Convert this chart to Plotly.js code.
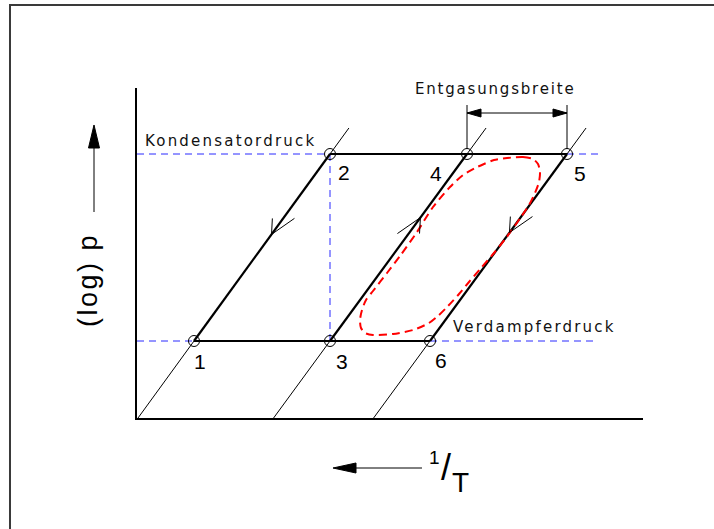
<!DOCTYPE html>
<html>
<head>
<meta charset="utf-8">
<script src="https://cdn.plot.ly/plotly-3.0.1.min.js"></script>
<style>
  html, body { margin: 0; padding: 0; background: #fff; }
  #chart { width: 714px; height: 529px; }
</style>
</head>
<body>
<div id="chart"></div>
<script>
// Absorption cycle in the log p – 1/T diagram

// State points 1..6 (x: 1/T, y: log p)
const stateLabels = ['1', '2', '3', '4', '5', '6'];
const stateX = [1.14, 3.86, 3.86, 6.60, 8.60, 5.86];
const stateY = [1.54, 5.28, 1.54, 5.28, 5.28, 1.54];

// Pressure levels
const pCond = 5.28;   // Kondensatordruck
const pEvap = 1.54;   // Verdampferdruck

// Isosteres as pairs of state indices (lower, upper)
const isosteres = [[0, 1], [2, 3], [5, 4]];
const isostereTop = 5.8;

// Flow direction arrows: [from, to, fraction along the segment]
const flowArrows = [[1, 0, 0.43], [2, 3, 0.66], [4, 5, 0.42]];

// Real process (dashed loop)
const loopX = [7.40, 7.72, 7.92, 8.02, 8.06, 8.04, 7.96, 7.84, 7.68, 7.38, 7.14, 6.88, 6.64, 6.44, 6.22, 6.04,
               5.84, 5.52, 5.12, 4.72, 4.56, 4.48, 4.46, 4.50, 4.58, 4.72, 5.00, 5.26, 5.60, 5.92, 6.26, 6.52,
               6.76, 6.94, 7.14, 7.40];
const loopY = [5.20, 5.22, 5.18, 5.08, 4.92, 4.72, 4.50, 4.26, 4.02, 3.60, 3.30, 3.00, 2.72, 2.48, 2.24, 2.06,
               1.90, 1.76, 1.68, 1.66, 1.70, 1.80, 1.96, 2.16, 2.36, 2.54, 2.90, 3.24, 3.72, 4.22, 4.62, 4.86,
               5.00, 5.08, 5.16, 5.20];

// Extent of the dashed pressure guides on the right
const guideEnd = 9.22;
// Height of the Entgasungsbreite dimension
const dimTop = 6.26, dimY = 6.10;

// ---- geometry helpers ----
const W = 714, H = 529;
const M = { l: 137, r: 71, t: 88, b: 111 };
const PW = W - M.l - M.r, PH = H - M.t - M.b;
const xRange = [0, 10.12], yRange = [0, 6.6];
const kx = PW / (xRange[1] - xRange[0]);
const ky = PH / (yRange[1] - yRange[0]);
// figure pixel -> paper
const fx = px => (px - M.l) / PW;
const fy = py => (H - M.b - py) / PH;
const paperPath = (pts, close) =>
  pts.map((p, i) => (i ? 'L' : 'M') + fx(p[0]).toFixed(5) + ',' + fy(p[1]).toFixed(5)).join(' ') + (close ? ' Z' : '');

// ---- traces ----
const thin = { x: [], y: [] };
isosteres.forEach(([a, b]) => {
  const s = (stateX[b] - stateX[a]) / (stateY[b] - stateY[a]);
  thin.x.push(stateX[a] + (yRange[0] - stateY[a]) * s, stateX[a] + (isostereTop - stateY[a]) * s, null);
  thin.y.push(yRange[0], isostereTop, null);
});

const blue = {
  x: [0, stateX[1], null, stateX[4], guideEnd, null, 0, stateX[0], null, stateX[5], guideEnd, null, stateX[1], stateX[2]],
  y: [pCond, pCond, null, pCond, pCond, null, pEvap, pEvap, null, pEvap, pEvap, null, stateY[1], stateY[2]]
};

const thick = { x: [], y: [] };
[[0, 1], [2, 3], [5, 4]].forEach(([a, b]) => {
  thick.x.push(stateX[a], stateX[b], null); thick.y.push(stateY[a], stateY[b], null);
});
thick.x.push(stateX[0], stateX[5], null, stateX[1], stateX[4]);
thick.y.push(pEvap, pEvap, null, pCond, pCond);

const data = [
  { x: blue.x, y: blue.y, mode: 'lines', line: { color: '#2a2aff', width: 1, dash: '7px,5px' }, hoverinfo: 'skip' },
  { x: thin.x, y: thin.y, mode: 'lines', line: { color: '#000', width: 1 }, hoverinfo: 'skip' },
  { x: thick.x, y: thick.y, mode: 'lines', line: { color: '#000', width: 2.2 }, hoverinfo: 'skip' },
  { x: loopX, y: loopY, mode: 'lines', line: { color: '#ff0000', width: 2, dash: '8px,5px', shape: 'spline', smoothing: 0.7 }, hoverinfo: 'skip' },
  { x: stateX, y: stateY, mode: 'markers', marker: { symbol: 'circle-open', size: 11, color: '#000', line: { width: 1, color: '#000' } }, hoverinfo: 'skip', cliponaxis: false }
];

// ---- shapes ----
const shapes = [];
// outer frame (top and left edges)
shapes.push({ type: 'path', xref: 'paper', yref: 'paper', path: paperPath([[10, 540], [10, 5], [720, 5]], false),
              line: { color: '#3a3a3a', width: 2 } });

// half-open arrowheads along the isosteres
const rot = (v, deg) => { const r = deg * Math.PI / 180; return [v[0] * Math.cos(r) - v[1] * Math.sin(r), v[0] * Math.sin(r) + v[1] * Math.cos(r)]; };
flowArrows.forEach(([a, b, t]) => {
  const tx = stateX[a] + t * (stateX[b] - stateX[a]);
  const ty = stateY[a] + t * (stateY[b] - stateY[a]);
  // backward direction in screen pixels (y down)
  let u = [(stateX[a] - stateX[b]) * kx, -(stateY[a] - stateY[b]) * ky];
  const L = Math.hypot(u[0], u[1]); u = [u[0] / L, u[1] / L];
  [[19, 28], [-33, 16]].forEach(([ang, len]) => {
    const v = rot(u, ang);
    shapes.push({ type: 'line', xref: 'x', yref: 'y', x0: tx, y0: ty,
                  x1: tx + v[0] * len / kx, y1: ty - v[1] * len / ky, line: { color: '#000', width: 1 } });
  });
});

// Entgasungsbreite dimension
[stateX[3], stateX[4]].forEach(xv => {
  shapes.push({ type: 'line', xref: 'x', yref: 'y', x0: xv, y0: pCond + 5 / ky, x1: xv, y1: dimTop, line: { color: '#000', width: 1 } });
});
shapes.push({ type: 'line', xref: 'x', yref: 'y', x0: stateX[3], y0: dimY, x1: stateX[4], y1: dimY, line: { color: '#000', width: 1 } });
const headLen = 14 / kx, headW = 4 / ky;
shapes.push({ type: 'path', xref: 'x', yref: 'y',
  path: `M${stateX[3]},${dimY} L${stateX[3] + headLen},${dimY + headW} L${stateX[3] + headLen},${dimY - headW} Z`,
  fillcolor: '#000', line: { color: '#000', width: 1 } });
shapes.push({ type: 'path', xref: 'x', yref: 'y',
  path: `M${stateX[4]},${dimY} L${stateX[4] - headLen},${dimY + headW} L${stateX[4] - headLen},${dimY - headW} Z`,
  fillcolor: '#000', line: { color: '#000', width: 1 } });

// axis direction arrows
shapes.push({ type: 'path', xref: 'paper', yref: 'paper', path: paperPath([[94, 212], [94, 140]]), line: { color: '#000', width: 1 } });
shapes.push({ type: 'path', xref: 'paper', yref: 'paper', path: paperPath([[94, 125], [88.5, 148], [99.5, 148]], true),
              fillcolor: '#000', line: { color: '#000', width: 1 } });
shapes.push({ type: 'path', xref: 'paper', yref: 'paper', path: paperPath([[422, 468], [350, 468]]), line: { color: '#000', width: 1 } });
shapes.push({ type: 'path', xref: 'paper', yref: 'paper', path: paperPath([[333, 468], [356, 463], [356, 473]], true),
              fillcolor: '#000', line: { color: '#000', width: 1 } });

// ---- annotations ----
const sansFam = 'Liberation Sans, Arial, sans-serif';
const numFont = { family: sansFam, size: 21, color: '#000' };
const cadFont = { family: 'DejaVu Sans', size: 15, color: '#111' };
const spaced = (s, px) => `<span style="letter-spacing:${px}px">${s}</span>`;
const labelDX = [6, 14, 12, -31, 13, 10.5];
const labelDY = [-20, -18.5, -20, -19, -19, -19.5];

const annotations = stateLabels.map((t, i) => ({
  x: stateX[i], y: stateY[i], xref: 'x', yref: 'y', text: t, showarrow: false,
  xshift: labelDX[i], yshift: labelDY[i], xanchor: 'center', yanchor: 'middle', font: numFont
}));

annotations.push(
  { x: 0, y: pCond, xref: 'x', yref: 'y', text: spaced('Kondensatordruck', 2.2), showarrow: false,
    xanchor: 'left', yanchor: 'middle', xshift: 6, yshift: 13, font: cadFont },
  { x: stateX[5], y: pEvap, xref: 'x', yref: 'y', text: spaced('Verdampferdruck', 2.2), showarrow: false,
    xanchor: 'left', yanchor: 'middle', xshift: 21, yshift: 14, font: cadFont },
  { x: stateX[3], y: fy(89), xref: 'x', yref: 'paper', text: spaced('Entgasungsbreite', 1.8), showarrow: false,
    xanchor: 'left', yanchor: 'middle', xshift: -54, font: cadFont },
  { x: fx(88), y: fy(280), xref: 'paper', yref: 'paper', text: spaced('(log) p', 2.5), textangle: -90, showarrow: false,
    xanchor: 'center', yanchor: 'middle', font: { family: sansFam, size: 27, color: '#000' } },
  // 1/T written as a raised 1, a tall slash and a lowered T
  { x: fx(434.5), y: fy(457), xref: 'paper', yref: 'paper', text: '1', showarrow: false, borderpad: 0,
    xanchor: 'center', yanchor: 'middle', font: { family: sansFam, size: 19, color: '#000' } },
  { x: fx(446), y: fy(467), xref: 'paper', yref: 'paper', text: '/', showarrow: false, borderpad: 0,
    xanchor: 'center', yanchor: 'middle', font: { family: sansFam, size: 36, color: '#000' } },
  { x: fx(460.5), y: fy(482), xref: 'paper', yref: 'paper', text: 'T', showarrow: false, borderpad: 0,
    xanchor: 'center', yanchor: 'middle', font: { family: sansFam, size: 28, color: '#000' } }
);

const axisCommon = {
  showline: true, linecolor: '#000', linewidth: 2, showgrid: false, zeroline: false,
  ticks: '', showticklabels: false, fixedrange: true
};

const layout = {
  width: W, height: H,
  margin: M,
  paper_bgcolor: '#fff', plot_bgcolor: '#fff',
  showlegend: false,
  xaxis: Object.assign({ range: xRange }, axisCommon),
  yaxis: Object.assign({ range: yRange }, axisCommon),
  shapes: shapes,
  annotations: annotations
};

Plotly.newPlot('chart', data, layout, { displayModeBar: false, staticPlot: true });
</script>
</body>
</html>
